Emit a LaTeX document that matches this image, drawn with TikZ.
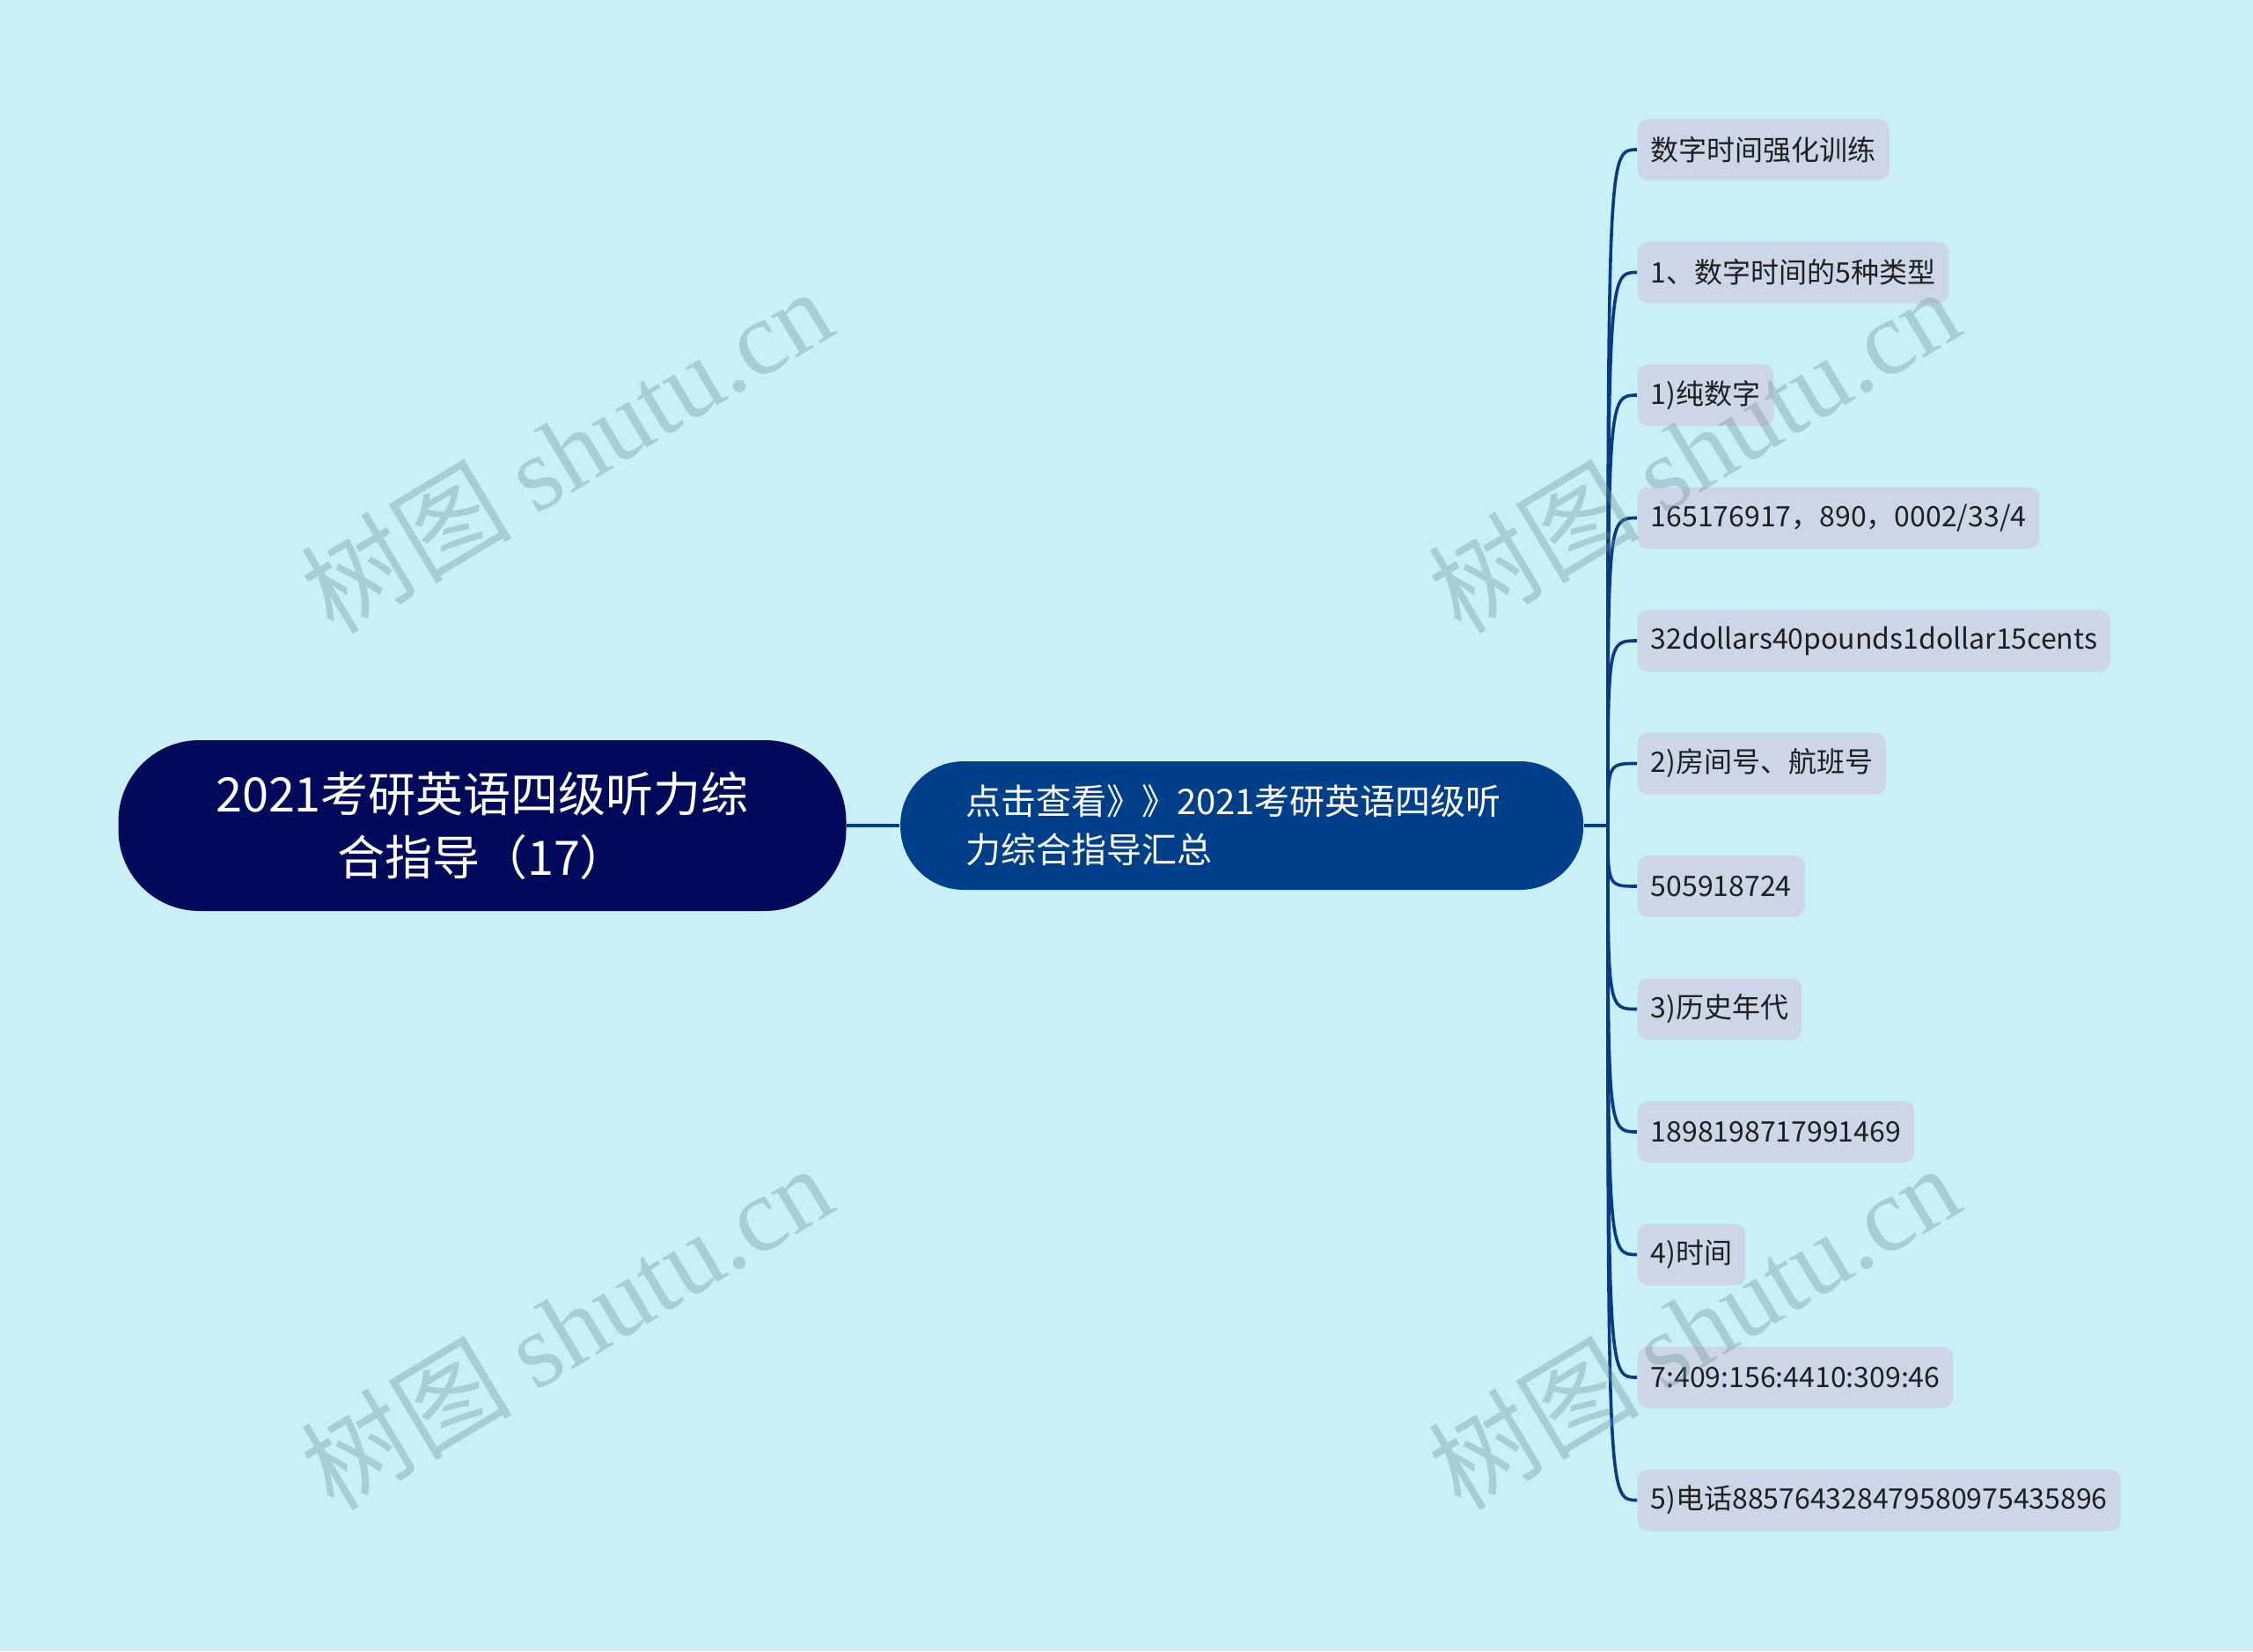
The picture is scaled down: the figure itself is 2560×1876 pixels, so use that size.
\documentclass[tikz,border=0pt]{standalone}
\usepackage{fontspec}
\setmainfont{Noto Sans CJK SC}
\newfontfamily\wmlatin{Liberation Serif}
\usetikzlibrary{positioning}
\definecolor{Sky}{HTML}{C9EFF7}
\definecolor{Ink}{HTML}{00095A}
\definecolor{Ocean}{HTML}{003F8A}
\definecolor{Mist}{HTML}{CDD6E6}
\definecolor{Wire}{HTML}{0B3A85}
\definecolor{Stamp}{HTML}{6A9490}

\begin{document}
\begin{tikzpicture}[x=0.25pt,y=-0.25pt,
    root/.style={fill=Ink,text=white,rounded corners=23pt,minimum width=206.75pt,
      minimum height=48.5pt,align=center,font=\fontsize{13.5}{18}\selectfont},
    hub/.style={fill=Ocean,text=white,rounded corners=18pt,text width=157pt,inner xsep=18.5pt,
      minimum height=36.5pt,align=left,font=\fontsize{10}{13.75}\selectfont},
    leaf/.style={fill=Mist,text=black!88,rounded corners=3pt,minimum height=17.5pt,
      inner xsep=3.75pt,anchor=west,font=\fontsize{8}{10}\selectfont},
    link/.style={Ocean,line width=1pt},
    twig/.style={Wire,line width=0.9pt},
    stamp/.style={Stamp,opacity=0.35,rotate=31,font=\fontsize{30}{30}\selectfont}
  ]
    \fill[Sky] (0,0) rectangle (2560,1876);
    \useasboundingbox (0,0) rectangle (2560,1876);

    \node[root] (root) at (548,938) {2021考研英语四级听力综\\合指导（17）};
    \node[hub,right=15pt of root] (hub) {点击查看》》2021考研英语四级听\\力综合指导汇总};
    \coordinate[right=6.75pt of hub.east] (jn);
    \draw[link](root)--(hub);
    \draw[link](hub)--(jn);

    \foreach \txt [count=\i] in {%
      数字时间强化训练,%
      1、数字时间的5种类型,%
      1)纯数字,%
      165176917，890，0002/33/4,%
      32dollars40pounds1dollar15cents,%
      2)房间号、航班号,%
      505918724,%
      3)历史年代,%
      1898198717991469,%
      4)时间,%
      7:409:156:4410:309:46,%
      5)电话885764328479580975435896%
    }{
      \node[leaf] (leaf\i) at (1860,{170+139.5*(\i-1)}) {\txt};
      \draw[twig](jn) .. controls (jn |- leaf\i.west) .. (leaf\i.west);
    }

    \node[stamp] (wm1) at (643,511) {树图 {\wmlatin shutu.cn}};
    \node[stamp] (wm2) at (1924,511) {树图 {\wmlatin shutu.cn}};
    \node[stamp] (wm3) at (643,1507) {树图 {\wmlatin shutu.cn}};
    \node[stamp] (wm4) at (1924,1507) {树图 {\wmlatin shutu.cn}};
  \end{tikzpicture}
\end{document}
